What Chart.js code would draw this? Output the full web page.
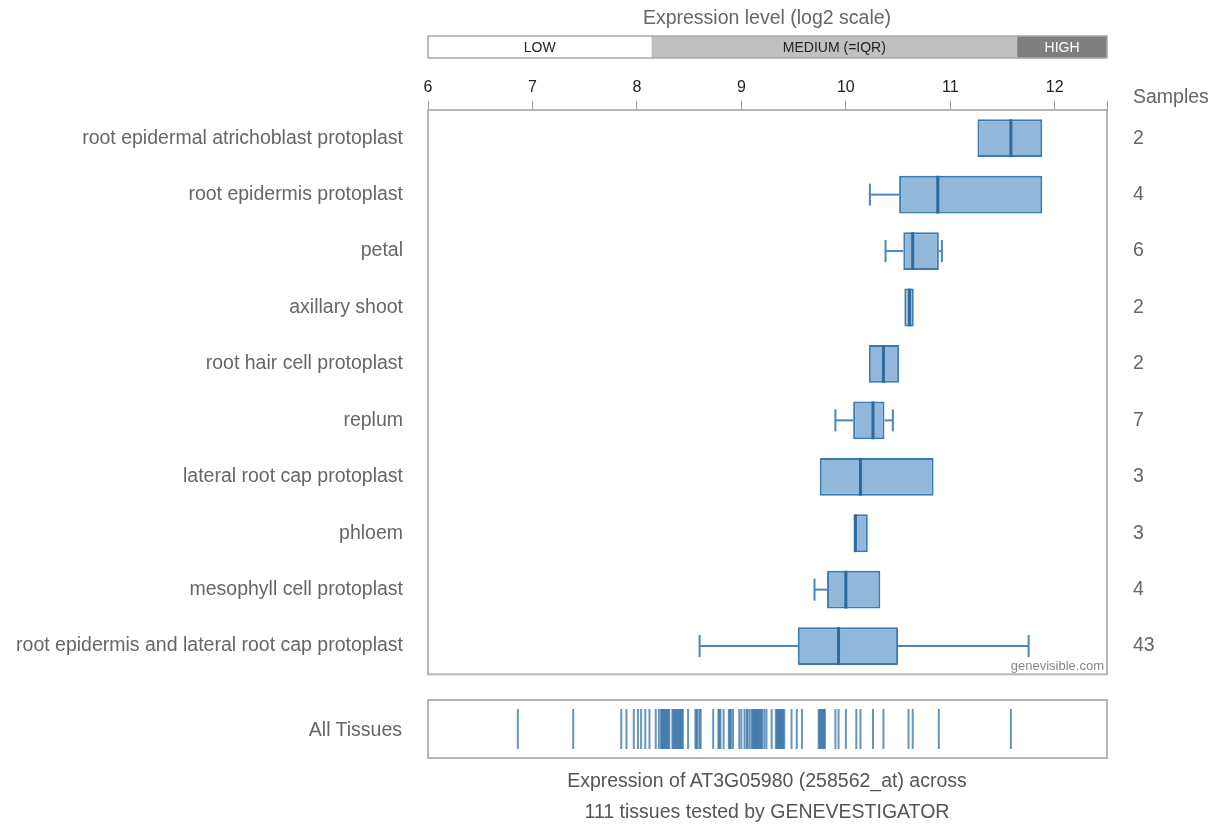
<!DOCTYPE html>
<html>
<head>
<meta charset="utf-8">
<script src="https://cdn.jsdelivr.net/npm/chart.js@4.4.1/dist/chart.umd.min.js"></script>
<style>
  body { margin: 0; background: #fff; font-family: 'Liberation Sans', Arial, sans-serif; }
  #wrap { position: relative; width: 1218px; height: 826px; overflow: hidden; }
  #main { position: absolute; left: 0; top: 0; }
  #strip { position: absolute; left: 0; top: 690px; }
  .txt { position: absolute; color: #666; font-size: 19.5px; white-space: nowrap; }
</style>
</head>
<body>
<div id="wrap">
  <canvas id="main" width="1218" height="712"></canvas>
  <canvas id="strip" width="1218" height="80"></canvas>
  <div class="txt" style="left:0;width:1534px;top:6px;text-align:center;">Expression level (log2 scale)</div>
  <div class="txt" style="left:1133px;top:85px;">Samples</div>
  <div class="txt" style="left:0;width:402px;top:718px;text-align:right;">All Tissues</div>
  <div class="txt" style="left:0;width:1534px;top:769px;text-align:center;color:#555;">Expression of AT3G05980 (258562_at) across</div>
  <div class="txt" style="left:0;width:1534px;top:800px;text-align:center;color:#555;">111 tissues tested by GENEVESTIGATOR</div>
  <div class="txt" style="left:0;width:1104px;top:658px;text-align:right;font-size:13px;color:#888;">genevisible.com</div>
</div>
<script>
// ── Data ────────────────────────────────────────────────────────────────
const tissues = [
  'root epidermal atrichoblast protoplast',
  'root epidermis protoplast',
  'petal',
  'axillary shoot',
  'root hair cell protoplast',
  'replum',
  'lateral root cap protoplast',
  'phloem',
  'mesophyll cell protoplast',
  'root epidermis and lateral root cap protoplast',
];
const lows    = [11.26, 10.23, 10.38, 10.56, 10.22,  9.90,  9.75, 10.09,  9.70,  8.60];
const q1      = [11.26, 10.51, 10.55, 10.56, 10.22, 10.07,  9.75, 10.09,  9.82,  9.54];
const medians = [11.58, 10.88, 10.64, 10.61, 10.36, 10.26, 10.14, 10.09, 10.00,  9.93];
const q3      = [11.88, 11.88, 10.89, 10.65, 10.51, 10.37, 10.84, 10.21, 10.33, 10.50];
const highs   = [11.88, 11.88, 10.92, 10.65, 10.51, 10.45, 10.84, 10.21, 10.33, 11.75];
const samples = [2, 4, 6, 2, 2, 7, 3, 3, 4, 43];

const axisTicks = [6, 7, 8, 9, 10, 11, 12];

// expression bands on the top legend bar
const bandEdges  = [6, 8.14, 11.64, 12.5];
const bandLabels = ['LOW', 'MEDIUM (=IQR)', 'HIGH'];
const bandFills  = ['#ffffff', '#c0c0c0', '#7f7f7f'];
const bandText   = ['#222', '#222', '#fff'];

// all tissues (strip at the bottom)
const allTissues = [
  6.86, 7.39, 7.85, 7.90, 7.97, 8.01, 8.04, 8.08, 8.12, 8.18, 8.21,
  8.23, 8.24, 8.25, 8.26, 8.27, 8.28, 8.29, 8.30, 8.31,
  8.34, 8.35, 8.36, 8.37, 8.38, 8.39, 8.40, 8.41, 8.42, 8.43, 8.44,
  8.49, 8.56, 8.57, 8.58, 8.60, 8.61, 8.73, 8.78, 8.79, 8.80, 8.83, 8.88, 8.89, 8.90,
  8.92, 8.98, 9.00, 9.03, 9.05, 9.06, 9.08, 9.10, 9.11, 9.12, 9.13, 9.14, 9.15, 9.16, 9.17, 9.18,
  9.19, 9.20, 9.22, 9.24, 9.29, 9.33, 9.34, 9.35, 9.36, 9.37, 9.38, 9.39, 9.40, 9.41, 9.48, 9.53,
  9.58, 9.74, 9.75, 9.76, 9.77, 9.78, 9.79, 9.80, 9.90, 9.93, 10.00, 10.10, 10.14,
  10.26, 10.36, 10.60, 10.64, 10.89, 11.58,
];

const xMin = 6, xMax = 12.5;
const boxFill = '#91b8da', boxLine = '#3d7ab0', medLine = '#2d6a9f', whisk = '#4a87bc';
const frame = '#b5b5b5';
const font = "'Liberation Sans', Arial, sans-serif";

// ── Box extras: whiskers, medians, frame, expression band ───────────────
const boxExtras = {
  id: 'boxExtras',
  afterDatasetsDraw(chart) {
    const { ctx, scales: { x } } = chart;
    const meta = chart.getDatasetMeta(0);
    ctx.save();
    tissues.forEach((t, i) => {
      const bar = meta.data[i];
      const yc = bar.y, h = bar.height;
      ctx.strokeStyle = whisk;
      ctx.lineWidth = 2;
      const seg = (a, b) => {
        ctx.beginPath();
        ctx.moveTo(x.getPixelForValue(a), yc);
        ctx.lineTo(x.getPixelForValue(b), yc);
        ctx.stroke();
        ctx.beginPath();
        ctx.moveTo(x.getPixelForValue(a), yc - 11);
        ctx.lineTo(x.getPixelForValue(a), yc + 11);
        ctx.stroke();
      };
      if (lows[i] < q1[i]) seg(lows[i], q1[i]);
      if (highs[i] > q3[i]) seg(highs[i], q3[i]);
      ctx.strokeStyle = medLine;
      ctx.lineWidth = 3;
      const mx = x.getPixelForValue(medians[i]);
      ctx.beginPath();
      ctx.moveTo(mx, yc - h / 2);
      ctx.lineTo(mx, yc + h / 2);
      ctx.stroke();
    });
    const a = chart.chartArea;
    ctx.strokeStyle = frame;
    ctx.lineWidth = 2;
    ctx.strokeRect(a.left, a.top, a.right - a.left, a.bottom - a.top);

    // legend band above the axis
    const bTop = 36, bH = 22;
    ctx.font = '14px ' + font;
    ctx.textAlign = 'center';
    ctx.textBaseline = 'middle';
    bandLabels.forEach((lab, i) => {
      const l = x.getPixelForValue(bandEdges[i]), r = x.getPixelForValue(bandEdges[i + 1]);
      ctx.fillStyle = bandFills[i];
      ctx.fillRect(l, bTop, r - l, bH);
      ctx.fillStyle = bandText[i];
      ctx.fillText(lab, (l + r) / 2, bTop + bH / 2 + 1);
    });
    ctx.strokeStyle = '#a8a8a8';
    ctx.lineWidth = 1.5;
    ctx.strokeRect(a.left, bTop, a.right - a.left, bH);
    ctx.restore();
  },
};

new Chart(document.getElementById('main'), {
  type: 'bar',
  data: {
    labels: tissues,
    datasets: [{
      data: tissues.map((t, i) => [q1[i], q3[i]]),
      backgroundColor: boxFill,
      borderColor: boxLine,
      borderWidth: 2,
      borderSkipped: false,
      categoryPercentage: 1,
      barPercentage: 0.67,
    }],
  },
  options: {
    indexAxis: 'y',
    responsive: false,
    animation: false,
    events: [],
    layout: { autoPadding: false, padding: { top: 60, bottom: 15, left: 0, right: 0 } },
    plugins: { legend: { display: false }, tooltip: { enabled: false } },
    scales: {
      x: {
        type: 'linear', position: 'top', min: xMin, max: xMax,
        afterBuildTicks: s => { s.ticks = axisTicks.concat([xMax]).map(v => ({ value: v })); },
        afterFit: s => { s.height = 50; },
        grid: { drawOnChartArea: false, drawTicks: true, tickLength: 9, color: '#999', lineWidth: 1 },
        border: { display: false },
        ticks: {
          padding: 4, color: '#222', maxRotation: 0, autoSkip: false,
          font: { family: font, size: 16 },
          callback: v => axisTicks.includes(v) ? v : '',
        },
      },
      y: {
        position: 'left',
        afterFit: s => { s.width = 428; },
        grid: { display: false, drawTicks: false },
        border: { display: false },
        ticks: { padding: 25, color: '#666', font: { family: font, size: 19.5 } },
      },
      y2: {
        type: 'category', position: 'right', offset: true,
        labels: samples.map(String),
        afterFit: s => { s.width = 111; },
        grid: { display: false, drawTicks: false },
        border: { display: false },
        ticks: { padding: 26, color: '#666', font: { family: font, size: 19.5 } },
      },
    },
  },
  plugins: [boxExtras],
});

// ── All tissues strip ───────────────────────────────────────────────────
const stripFrame = {
  id: 'stripFrame',
  afterDraw(chart) {
    const { ctx, chartArea: a } = chart;
    ctx.save();
    ctx.strokeStyle = frame;
    ctx.lineWidth = 2;
    ctx.strokeRect(a.left, a.top, a.right - a.left, a.bottom - a.top);
    ctx.restore();
  },
};

new Chart(document.getElementById('strip'), {
  type: 'scatter',
  data: {
    datasets: [{
      data: allTissues.map(v => ({ x: v, y: 0.5 })),
      pointStyle: 'line',
      rotation: 90,
      radius: 20,
      borderWidth: 2,
      borderColor: 'rgba(52,114,168,0.75)',
    }],
  },
  options: {
    responsive: false,
    animation: false,
    events: [],
    layout: { autoPadding: false, padding: { top: 10, bottom: 12, left: 428, right: 111 } },
    plugins: { legend: { display: false }, tooltip: { enabled: false } },
    scales: {
      x: { type: 'linear', min: xMin, max: xMax, display: false },
      y: { type: 'linear', min: 0, max: 1, display: false },
    },
  },
  plugins: [stripFrame],
});
</script>
</body>
</html>
